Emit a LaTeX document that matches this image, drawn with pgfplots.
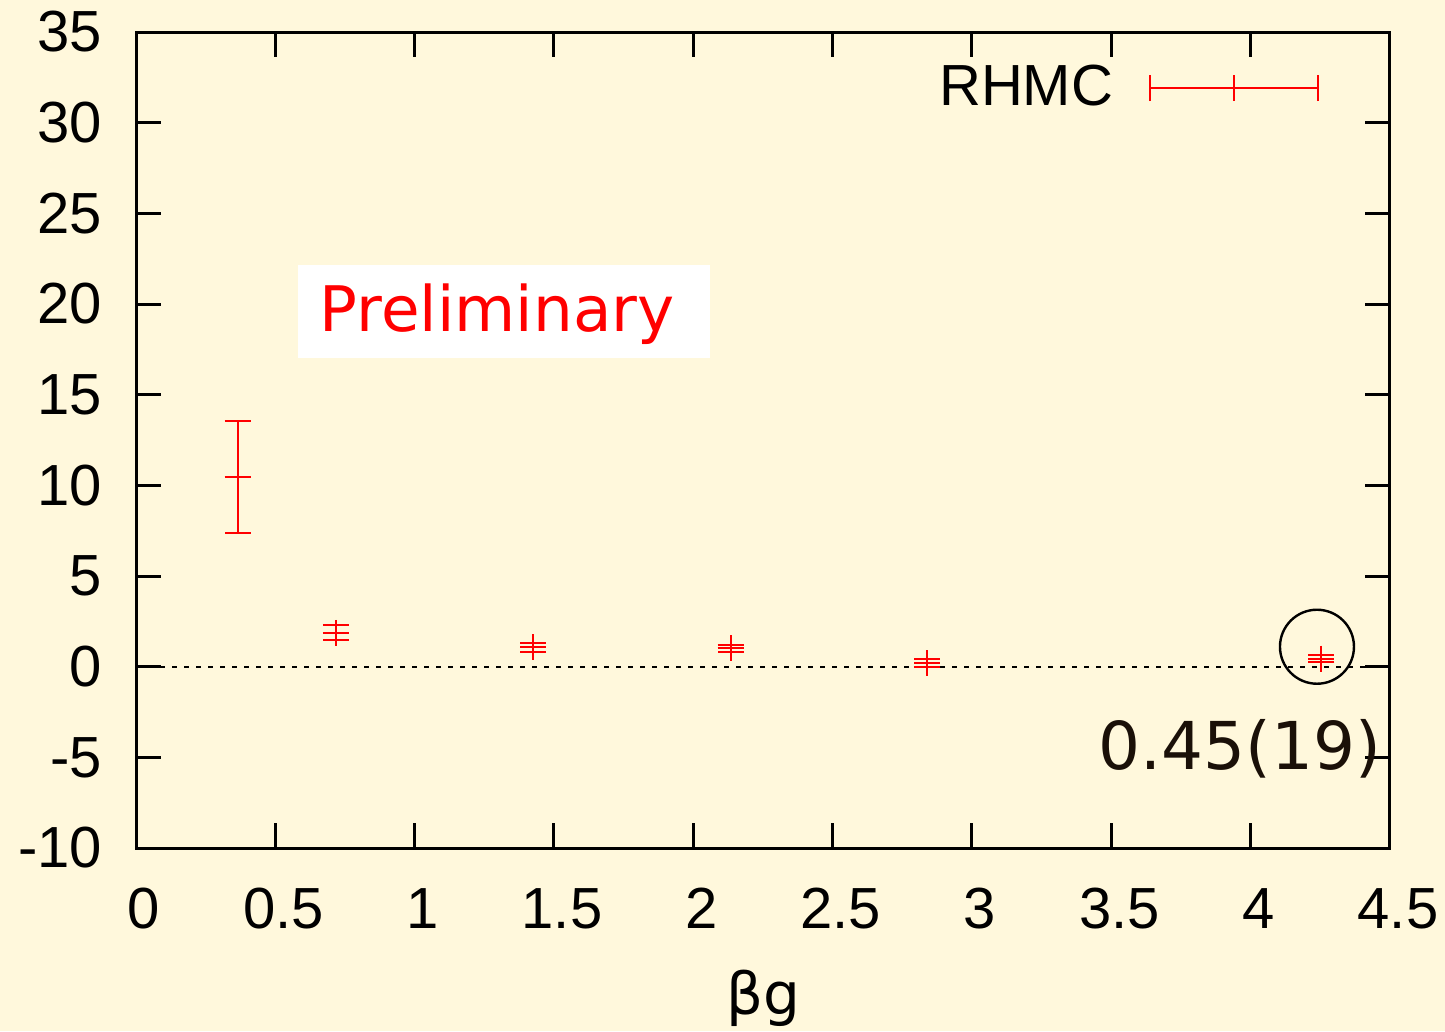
\documentclass[border=0pt]{standalone}
\usepackage{pgfplots}
\pgfplotsset{compat=1.18}
\usepackage{fontspec}
\setmainfont{Liberation Sans}
\newfontfamily\dejavu{DejaVu Sans}
\definecolor{bg}{RGB}{255,248,220}
\definecolor{txt}{RGB}{26,16,8}

\begin{document}
\begin{tikzpicture}
\fill[bg] (0,0) rectangle (361.25pt,257.75pt);
\begin{axis}[
    at={(34pt,45.75pt)}, anchor=south west,
    scale only axis, width=313.5pt, height=204pt,
    xmin=0, xmax=4.5, ymin=-10, ymax=35,
    xtick={0,0.5,...,4.5}, ytick={-10,-5,...,35},
    tick align=inside, major tick length=6.25pt,
    axis line style={line width=0.75pt},
    every tick/.style={black, line width=0.75pt},
    tick label style={font=\fontsize{14.5}{16}\selectfont},
    /pgf/number format/assume math mode=true,
    xticklabel style={yshift=-6.5pt, xshift=2pt},
    yticklabel style={xshift=-5pt},
    xlabel={{\dejavu βg}},
    xlabel style={font=\fontsize{14.5}{16}\selectfont, yshift=-3.25pt},
    clip=false,
    legend plot pos=right,
    legend style={draw=none, fill=none, at={(axis cs:4.2487,31.92)}, anchor=east,
      inner sep=0pt, font=\fontsize{14.5}{16}\selectfont,
      /tikz/every odd column/.style={column sep=7pt}},
]
\addplot[black, line width=0.5pt, dash pattern=on 1.25pt off 1.75pt, forget plot]
  coordinates {(0,0) (4.5,0)};
\addplot[red, line width=0.5pt, only marks, mark=+, mark size=3.25pt,
  legend image code/.code={
    \draw[red, line width=0.5pt] (0pt,0pt) -- (42pt,0pt);
    \draw[red, line width=0.5pt] (0pt,-3.3pt) -- (0pt,3.3pt);
    \draw[red, line width=0.5pt] (42pt,-3.3pt) -- (42pt,3.3pt);
    \draw[red, line width=0.5pt] (21pt,-3.3pt) -- (21pt,3.3pt);
    \draw[red, line width=0.5pt] (17.75pt,0pt) -- (24.25pt,0pt);
  },
  error bars/.cd, y dir=both, y explicit,
  error bar style={red, line width=0.5pt},
  error mark options={red, mark size=3.25pt, line width=0.5pt, rotate=90},
  ]
  table[x=x, y=y, y error=e] {
    x     y     e
    0.365 10.46 3.08
    0.717 1.87  0.42
    1.425 1.07  0.25
    2.134 1.01  0.20
    2.840 0.20  0.22
    4.254 0.45  0.19
  };
\addlegendentry{RHMC}
\fill[white] (axis cs:0.5813,22.16) rectangle (axis cs:2.0598,17.03);
\node[anchor=base west, inner sep=0pt, text=red, font=\dejavu\fontsize{15.7}{19}\selectfont]
  at (axis cs:0.6567,18.47) {Preliminary};
\draw[black, line width=0.6pt] (axis cs:4.238,1.1) circle[radius=9.25pt];
\node[anchor=base east, inner sep=0pt, text=txt, font=\dejavu\fontsize{16.5}{19}\selectfont]
  at (axis cs:4.47,-5.65) {0.45(19)};
\end{axis}
\pgfresetboundingbox
\path (0,0) rectangle (361.25pt,257.75pt);
\end{tikzpicture}
\end{document}
